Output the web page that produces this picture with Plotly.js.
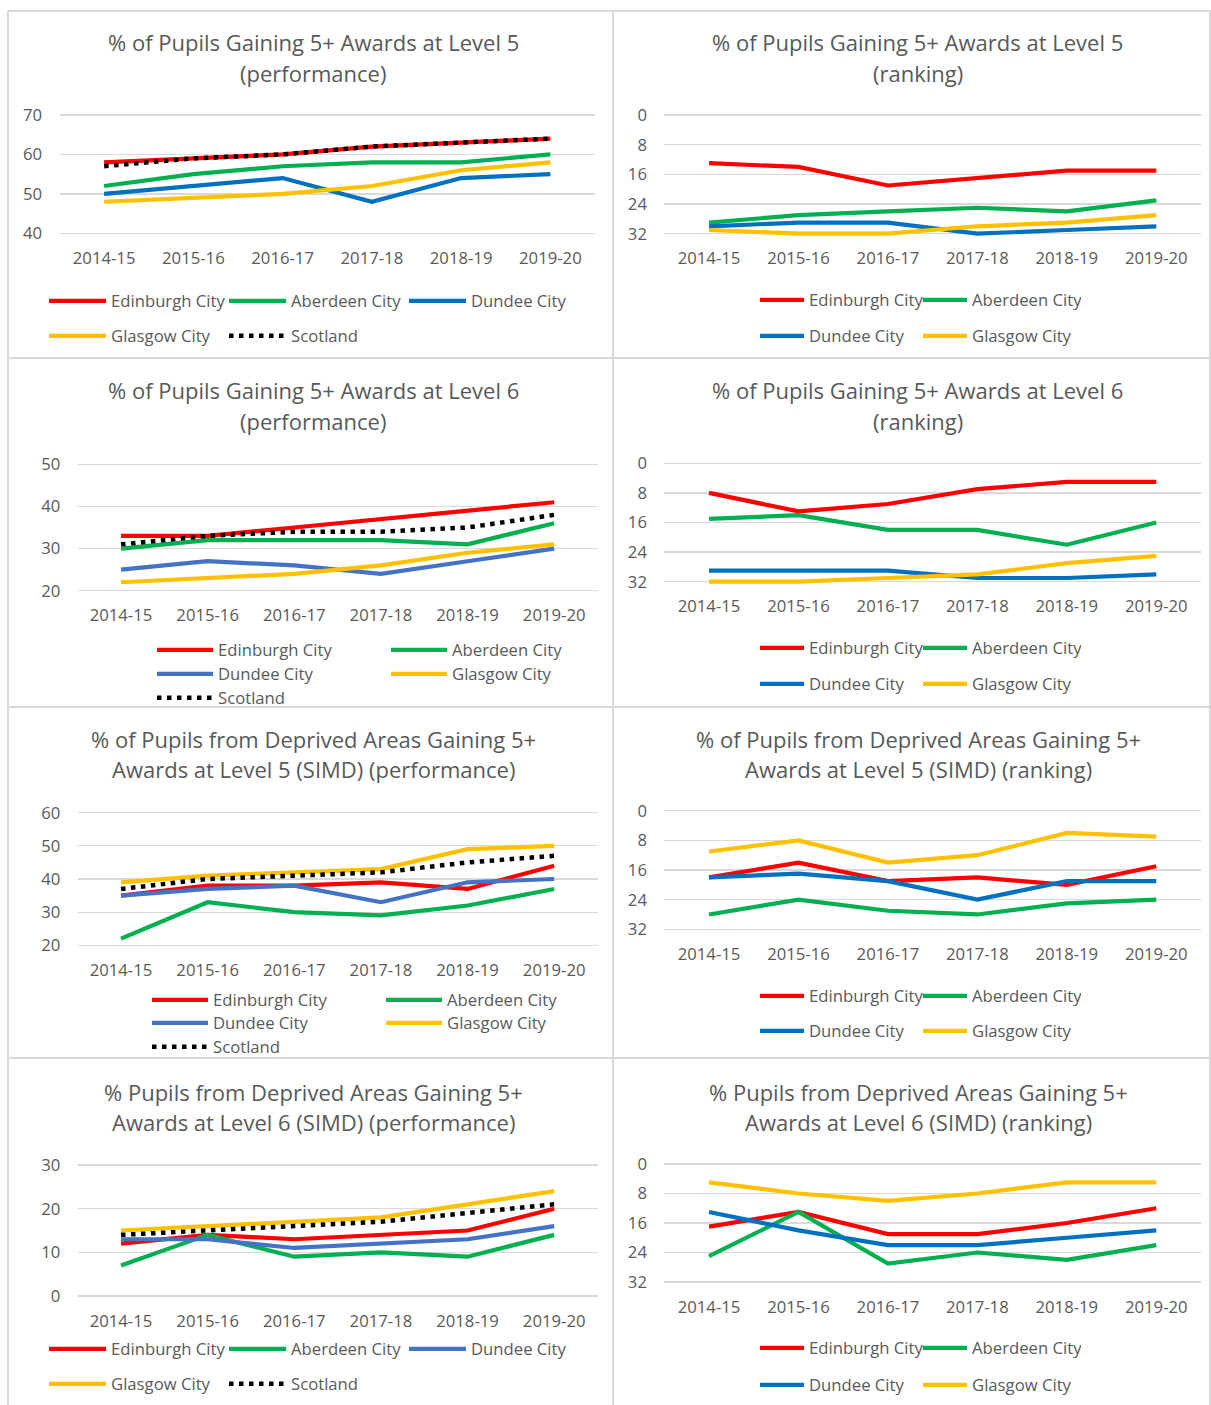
<!DOCTYPE html>
<html>
<head>
<meta charset="utf-8">
<script src="https://cdn.plot.ly/plotly-3.0.1.min.js"></script>
<style>
html,body{margin:0;padding:0;background:#ffffff;}
#chart{width:1211px;height:1405px;}
</style>
</head>
<body>
<div id="chart"></div>
<script>
// ---------- DATA ----------
const years = ['2014-15', '2015-16', '2016-17', '2017-18', '2018-19', '2019-20'];

// % of Pupils Gaining 5+ Awards at Level 5 (performance)
const l5PerfTicks = [40, 50, 60, 70];
const l5PerfEdinburgh = [58, 59, 60, 62, 63, 64];
const l5PerfAberdeen = [52, 55, 57, 58, 58, 60];
const l5PerfDundee = [50, 52, 54, 48, 54, 55];
const l5PerfGlasgow = [48, 49, 50, 52, 56, 58];
const l5PerfScotland = [57, 59, 60, 62, 63, 64];

// Ranking tick labels (shared)
const rankTicks = [0, 8, 16, 24, 32];

// % of Pupils Gaining 5+ Awards at Level 5 (ranking)
const l5RankEdinburgh = [13, 14, 19, 17, 15, 15];
const l5RankAberdeen = [29, 27, 26, 25, 26, 23];
const l5RankDundee = [30, 29, 29, 32, 31, 30];
const l5RankGlasgow = [31, 32, 32, 30, 29, 27];

// % of Pupils Gaining 5+ Awards at Level 6 (performance)
const l6PerfTicks = [20, 30, 40, 50];
const l6PerfEdinburgh = [33, 33, 35, 37, 39, 41];
const l6PerfAberdeen = [30, 32, 32, 32, 31, 36];
const l6PerfDundee = [25, 27, 26, 24, 27, 30];
const l6PerfGlasgow = [22, 23, 24, 26, 29, 31];
const l6PerfScotland = [31, 33, 34, 34, 35, 38];

// % of Pupils Gaining 5+ Awards at Level 6 (ranking)
const l6RankEdinburgh = [8, 13, 11, 7, 5, 5];
const l6RankAberdeen = [15, 14, 18, 18, 22, 16];
const l6RankDundee = [29, 29, 29, 31, 31, 30];
const l6RankGlasgow = [32, 32, 31, 30, 27, 25];

// % of Pupils from Deprived Areas Gaining 5+ Awards at Level 5 (SIMD) (performance)
const simd5PerfTicks = [20, 30, 40, 50, 60];
const simd5PerfEdinburgh = [35, 38, 38, 39, 37, 44];
const simd5PerfAberdeen = [22, 33, 30, 29, 32, 37];
const simd5PerfDundee = [35, 37, 38, 33, 39, 40];
const simd5PerfGlasgow = [39, 41, 42, 43, 49, 50];
const simd5PerfScotland = [37, 40, 41, 42, 45, 47];

// % of Pupils from Deprived Areas Gaining 5+ Awards at Level 5 (SIMD) (ranking)
const simd5RankEdinburgh = [18, 14, 19, 18, 20, 15];
const simd5RankAberdeen = [28, 24, 27, 28, 25, 24];
const simd5RankDundee = [18, 17, 19, 24, 19, 19];
const simd5RankGlasgow = [11, 8, 14, 12, 6, 7];

// % Pupils from Deprived Areas Gaining 5+ Awards at Level 6 (SIMD) (performance)
const simd6PerfTicks = [0, 10, 20, 30];
const simd6PerfEdinburgh = [12, 14, 13, 14, 15, 20];
const simd6PerfAberdeen = [7, 14, 9, 10, 9, 14];
const simd6PerfDundee = [13, 13, 11, 12, 13, 16];
const simd6PerfGlasgow = [15, 16, 17, 18, 21, 24];
const simd6PerfScotland = [14, 15, 16, 17, 19, 21];

// % Pupils from Deprived Areas Gaining 5+ Awards at Level 6 (SIMD) (ranking)
const simd6RankEdinburgh = [17, 13, 19, 19, 16, 12];
const simd6RankAberdeen = [25, 13, 27, 24, 26, 22];
const simd6RankDundee = [13, 18, 22, 22, 20, 18];
const simd6RankGlasgow = [5, 8, 10, 8, 5, 5];

// ---------- STYLE / GEOMETRY ----------
const W = 1211, H = 1405;
const px = v => v / W;
const py = v => 1 - v / H;
const FONT = '"Open Sans", "Noto Sans", sans-serif';
const GREY = '#595959';
const TICK_SIZE = 16.7;
const TITLE_SIZE = 22;
const PAD = 6;
const XTICKLEN = 3.5;
const YTICKLEN = 13;

const colorOf = {
  'Edinburgh City': '#FF0000',
  'Aberdeen City': '#00B050',
  'Glasgow City': '#FFC000',
  'Scotland': '#000000'
};

const leftLegend2Row = {legendX: 44, itemW: 57, entryW: 108};
const rightLegend = {legendX: 755, itemW: 44, entryW: 104};
const left3Row = {itemW: 56, entryW: 163};

const panels = [
  Object.assign({
    titles: ['% of Pupils Gaining 5+ Awards at Level 5', '(performance)'], titleX: 313, titleY: [42.5, 72.5],
    series: [['Edinburgh City', l5PerfEdinburgh], ['Aberdeen City', l5PerfAberdeen], ['Dundee City', l5PerfDundee], ['Glasgow City', l5PerfGlasgow], ['Scotland', l5PerfScotland]],
    ticks: l5PerfTicks, reversed: false, x0: 59.5, x1: 595, yTop: 115, yBot: 233.3, dundee: '#0070C0',
    rows: [[301, [0, 1, 2]], [336, [3, 4]]]
  }, leftLegend2Row),
  Object.assign({
    titles: ['% of Pupils Gaining 5+ Awards at Level 5', '(ranking)'], titleX: 917.5, titleY: [42.5, 72.5],
    series: [['Edinburgh City', l5RankEdinburgh], ['Aberdeen City', l5RankAberdeen], ['Dundee City', l5RankDundee], ['Glasgow City', l5RankGlasgow]],
    ticks: rankTicks, reversed: true, x0: 664.3, x1: 1201, yTop: 115, yBot: 233.7, dundee: '#0070C0',
    rows: [[300, [0, 1]], [336, [2, 3]]]
  }, rightLegend),
  Object.assign({
    titles: ['% of Pupils Gaining 5+ Awards at Level 6', '(performance)'], titleX: 313, titleY: [390.5, 420.5],
    series: [['Edinburgh City', l6PerfEdinburgh], ['Aberdeen City', l6PerfAberdeen], ['Dundee City', l6PerfDundee], ['Glasgow City', l6PerfGlasgow], ['Scotland', l6PerfScotland]],
    ticks: l6PerfTicks, reversed: false, x0: 77.7, x1: 597.5, yTop: 464.3, yBot: 590.7, dundee: '#4472C4',
    legendX: 152, rows: [[650, [0, 1]], [674, [2, 3]], [698, [4]]]
  }, left3Row),
  Object.assign({
    titles: ['% of Pupils Gaining 5+ Awards at Level 6', '(ranking)'], titleX: 917.5, titleY: [390.5, 420.5],
    series: [['Edinburgh City', l6RankEdinburgh], ['Aberdeen City', l6RankAberdeen], ['Dundee City', l6RankDundee], ['Glasgow City', l6RankGlasgow]],
    ticks: rankTicks, reversed: true, x0: 664.3, x1: 1201, yTop: 463.3, yBot: 581.7, dundee: '#0070C0',
    rows: [[648, [0, 1]], [684, [2, 3]]]
  }, rightLegend),
  Object.assign({
    titles: ['% of Pupils from Deprived Areas Gaining 5+', 'Awards at Level 5 (SIMD) (performance)'], titleX: 313.5, titleY: [738.5, 768.5],
    series: [['Edinburgh City', simd5PerfEdinburgh], ['Aberdeen City', simd5PerfAberdeen], ['Dundee City', simd5PerfDundee], ['Glasgow City', simd5PerfGlasgow], ['Scotland', simd5PerfScotland]],
    ticks: simd5PerfTicks, reversed: false, x0: 77.7, x1: 597.5, yTop: 812.7, yBot: 945.3, dundee: '#4472C4',
    legendX: 147, rows: [[1000, [0, 1]], [1023, [2, 3]], [1047, [4]]]
  }, left3Row),
  Object.assign({
    titles: ['% of Pupils from Deprived Areas Gaining 5+', 'Awards at Level 5 (SIMD) (ranking)'], titleX: 918, titleY: [738.5, 768.5],
    series: [['Edinburgh City', simd5RankEdinburgh], ['Aberdeen City', simd5RankAberdeen], ['Dundee City', simd5RankDundee], ['Glasgow City', simd5RankGlasgow]],
    ticks: rankTicks, reversed: true, x0: 664.3, x1: 1201, yTop: 810.7, yBot: 929.3, dundee: '#0070C0',
    rows: [[996, [0, 1]], [1031, [2, 3]]]
  }, rightLegend),
  Object.assign({
    titles: ['% Pupils from Deprived Areas Gaining 5+', 'Awards at Level 6 (SIMD) (performance)'], titleX: 313, titleY: [1091.5, 1121.5],
    series: [['Edinburgh City', simd6PerfEdinburgh], ['Aberdeen City', simd6PerfAberdeen], ['Dundee City', simd6PerfDundee], ['Glasgow City', simd6PerfGlasgow], ['Scotland', simd6PerfScotland]],
    ticks: simd6PerfTicks, reversed: false, x0: 77.7, x1: 597.5, yTop: 1165, yBot: 1296, dundee: '#4472C4',
    rows: [[1349, [0, 1, 2]], [1384, [3, 4]]]
  }, leftLegend2Row),
  Object.assign({
    titles: ['% Pupils from Deprived Areas Gaining 5+', 'Awards at Level 6 (SIMD) (ranking)'], titleX: 918, titleY: [1091.5, 1121.5],
    series: [['Edinburgh City', simd6RankEdinburgh], ['Aberdeen City', simd6RankAberdeen], ['Dundee City', simd6RankDundee], ['Glasgow City', simd6RankGlasgow]],
    ticks: rankTicks, reversed: true, x0: 664.3, x1: 1201, yTop: 1164, yBot: 1282, dundee: '#0070C0',
    rows: [[1348, [0, 1]], [1385, [2, 3]]]
  }, rightLegend)
];

const data = [];
const layout = {
  width: W, height: H,
  margin: {l: 0, r: 0, t: 0, b: 0, pad: 0},
  paper_bgcolor: '#ffffff', plot_bgcolor: 'rgba(0,0,0,0)',
  font: {family: FONT, color: GREY, size: TICK_SIZE},
  showlegend: true, hovermode: false,
  annotations: [], shapes: []
};

// frame lines
const frame = [
  [8, 11, 1211, 11], [8, 358, 1211, 358], [8, 707, 1211, 707], [8, 1058, 1211, 1058],
  [8, 11, 8, 1405], [613, 11, 613, 1405], [1210, 11, 1210, 1405]
];
frame.forEach(f => layout.shapes.push({
  type: 'line', xref: 'paper', yref: 'paper', layer: 'below',
  x0: px(f[0]), y0: py(f[1]), x1: px(f[2]), y1: py(f[3]),
  line: {color: '#d9d9d9', width: 2}
}));

let legendCount = 0;
panels.forEach((p, i) => {
  const n = i + 1;
  const sfx = n === 1 ? '' : String(n);
  const vMin = Math.min(...p.ticks), vMax = Math.max(...p.ticks);
  const u = (vMax - vMin) / (p.yBot - p.yTop);
  const range = p.reversed ? [vMax + PAD * u, vMin - PAD * u] : [vMin - PAD * u, vMax + PAD * u];

  layout['xaxis' + sfx] = {
    domain: [px(p.x0), px(p.x1)], anchor: 'y' + sfx, type: 'category',
    categoryorder: 'array', categoryarray: years, range: [-0.5, 5.5],
    showgrid: false, zeroline: false, showline: false,
    ticks: 'outside', ticklen: XTICKLEN, tickcolor: 'rgba(0,0,0,0)',
    tickfont: {family: FONT, size: TICK_SIZE, color: GREY}, fixedrange: true
  };
  layout['yaxis' + sfx] = {
    domain: [py(p.yBot + PAD), py(p.yTop - PAD)], anchor: 'x' + sfx, range: range,
    tickmode: 'array', tickvals: p.ticks, ticktext: p.ticks.map(String),
    showgrid: true, gridcolor: '#d9d9d9', gridwidth: 1.3,
    zeroline: false, showline: false,
    ticks: 'outside', ticklen: YTICKLEN, tickcolor: 'rgba(0,0,0,0)',
    tickfont: {family: FONT, size: TICK_SIZE, color: GREY}, fixedrange: true
  };

  const legendIds = p.rows.map(r => {
    legendCount++;
    const id = legendCount === 1 ? 'legend' : 'legend' + legendCount;
    layout[id] = {
      orientation: 'h', x: px(p.legendX), y: py(r[0]), xanchor: 'left', yanchor: 'middle',
      xref: 'paper', yref: 'paper',
      itemwidth: p.itemW, entrywidth: p.entryW, entrywidthmode: 'pixels',
      bgcolor: 'rgba(0,0,0,0)', borderwidth: 0, traceorder: 'normal',
      font: {family: FONT, size: TICK_SIZE, color: GREY},
      itemclick: false, itemdoubleclick: false
    };
    return id;
  });

  p.series.forEach((s, j) => {
    const name = s[0];
    const rowIdx = p.rows.findIndex(r => r[1].indexOf(j) >= 0);
    const isScot = name === 'Scotland';
    data.push({
      type: 'scatter', mode: 'lines', name: name,
      x: years, y: s[1],
      xaxis: 'x' + sfx, yaxis: 'y' + sfx,
      legend: legendIds[rowIdx], showlegend: true,
      line: {
        color: name === 'Dundee City' ? p.dundee : colorOf[name],
        width: isScot ? 4.5 : 4.2,
        dash: isScot ? '4.5px,5.5px' : 'solid'
      }
    });
  });

  p.titles.forEach((t, k) => layout.annotations.push({
    xref: 'paper', yref: 'paper', x: px(p.titleX), y: py(p.titleY[k]),
    xanchor: 'center', yanchor: 'middle', showarrow: false, text: t,
    font: {family: FONT, size: TITLE_SIZE, color: GREY}
  }));
});

Plotly.newPlot('chart', data, layout, {staticPlot: true, displayModeBar: false, responsive: false});
</script>
</body>
</html>
